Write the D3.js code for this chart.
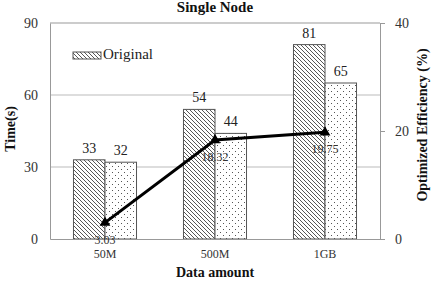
<!DOCTYPE html>
<html><head><meta charset="utf-8">
<script src="https://cdn.jsdelivr.net/npm/d3@7"></script>
<style>body{margin:0;background:#fff}svg{display:block}text{font-family:"Liberation Serif","Times New Roman",serif}</style>
</head><body>
<script>
const categories = ["50M","500M","1GB"];
const original = [33,54,81];
const optimized = [32,44,65];
const efficiency = [3.03,18.32,19.75];
const leftTicks = [0,30,60,90];
const rightTicks = [0,20,40];

const W=431,H=286;
const m={l:50,r:51,t:23,b:47};
const svg=d3.select("body").append("svg").attr("width",W).attr("height",H);
const defs=svg.append("defs");
const hatch=defs.append("pattern").attr("id","hatch").attr("patternUnits","userSpaceOnUse").attr("width",4).attr("height",4);
hatch.append("rect").attr("width",4).attr("height",4).attr("fill","#fff");
hatch.append("path").attr("d","M-1,-1L5,5M-1,3L1,5M3,-1L5,1").attr("stroke","#444").attr("stroke-width",0.9);
const dots=defs.append("pattern").attr("id","dots").attr("patternUnits","userSpaceOnUse").attr("width",6).attr("height",6);
dots.append("rect").attr("width",6).attr("height",6).attr("fill","#fff");
dots.append("rect").attr("x",1).attr("y",1).attr("width",1).attr("height",1).attr("fill","#555");
dots.append("rect").attr("x",4).attr("y",4).attr("width",1).attr("height",1).attr("fill","#555");

const x0=d3.scaleBand().domain(categories).range([m.l,W-m.r]).paddingInner(0).paddingOuter(0);
const x1=d3.scaleBand().domain(["o","p"]).range([0,x0.bandwidth()]).paddingInner(0).paddingOuter(0.745);
const y=d3.scaleLinear().domain([0,90]).range([H-m.b,m.t]);
const y2=d3.scaleLinear().domain([0,40]).range([H-m.b,m.t]);

// grid
svg.append("g").selectAll("line").data(leftTicks.filter(d=>d>0&&d<90)).join("line")
 .attr("x1",m.l).attr("x2",W-m.r).attr("y1",d=>y(d)).attr("y2",d=>y(d)).attr("stroke","#bbb").attr("stroke-width",1);

// bars
const g=svg.append("g");
categories.forEach((c,i)=>{
  [["o",original[i],"url(#hatch)"],["p",optimized[i],"url(#dots)"]].forEach(([k,v,f])=>{
    g.append("rect").attr("x",x0(c)+x1(k)).attr("y",y(v)).attr("width",x1.bandwidth()).attr("height",y(0)-y(v))
     .attr("fill",f).attr("stroke","#555").attr("stroke-width",1);
    g.append("text").attr("x",x0(c)+x1(k)+x1.bandwidth()/2).attr("y",y(v)-7).attr("text-anchor","middle")
     .attr("font-size",14).attr("fill","#222").text(v);
  });
});

// frame
svg.append("line").attr("x1",m.l).attr("x2",W-m.r).attr("y1",m.t).attr("y2",m.t).attr("stroke","#999");
const ax=svg.append("g").attr("transform",`translate(${m.l},0)`).call(d3.axisLeft(y).tickValues(leftTicks).tickSize(0).tickPadding(12));
ax.select(".domain").attr("stroke","#999");
ax.selectAll("text").attr("font-size",14).attr("fill","#333").attr("font-family","Liberation Serif");
const ar=svg.append("g").attr("transform",`translate(${W-m.r},0)`).call(d3.axisRight(y2).tickValues(rightTicks).tickSize(5).tickPadding(10));
ar.select(".domain").attr("stroke","#999");
ar.selectAll("line").attr("stroke","#999");
ar.selectAll("text").attr("font-size",14).attr("fill","#333").attr("font-family","Liberation Serif");
const ab=svg.append("g").attr("transform",`translate(0,${H-m.b})`).call(d3.axisBottom(x0).tickSize(0).tickPadding(10));
ab.select(".domain").attr("stroke","#999");
ab.selectAll("text").attr("font-size",12).attr("fill","#333").attr("font-family","Liberation Serif");

// line
const cx=c=>x0(c)+x0.bandwidth()/2;
const line=d3.line().x((d,i)=>cx(categories[i])).y(d=>y2(d));
svg.append("path").datum(efficiency).attr("d",line).attr("fill","none").attr("stroke","#000").attr("stroke-width",3);
svg.append("g").selectAll("path").data(efficiency).join("path")
 .attr("d",d3.symbol(d3.symbolTriangle,50))
 .attr("transform",(d,i)=>`translate(${cx(categories[i])},${y2(d)})`).attr("fill","#000");
svg.append("g").selectAll("text").data(efficiency).join("text")
 .attr("x",(d,i)=>cx(categories[i])).attr("y",d=>y2(d)+21).attr("text-anchor","middle")
 .attr("font-size",12).attr("fill","#333").text(d=>d.toFixed(2));

// legend
svg.append("rect").attr("x",73).attr("y",52).attr("width",28).attr("height",7).attr("fill","url(#hatch)").attr("stroke","#555");
svg.append("text").attr("x",103).attr("y",59).attr("font-size",15).attr("fill","#222").text("Original");

// titles
svg.append("text").attr("x",215).attr("y",12).attr("text-anchor","middle").attr("font-size",15).attr("font-weight","bold").attr("fill","#111").text("Single Node");
svg.append("text").attr("x",215).attr("y",277).attr("text-anchor","middle").attr("font-size",14).attr("font-weight","bold").attr("fill","#111").text("Data amount");
svg.append("text").attr("transform","translate(15,129) rotate(-90)").attr("text-anchor","middle").attr("font-size",14).attr("font-weight","bold").attr("fill","#111").text("Time(s)");
svg.append("text").attr("transform","translate(427,125) rotate(-90)").attr("text-anchor","middle").attr("font-size",14).attr("font-weight","bold").attr("fill","#111").text("Optimized  Efficiency (%)");
</script>
</body></html>
